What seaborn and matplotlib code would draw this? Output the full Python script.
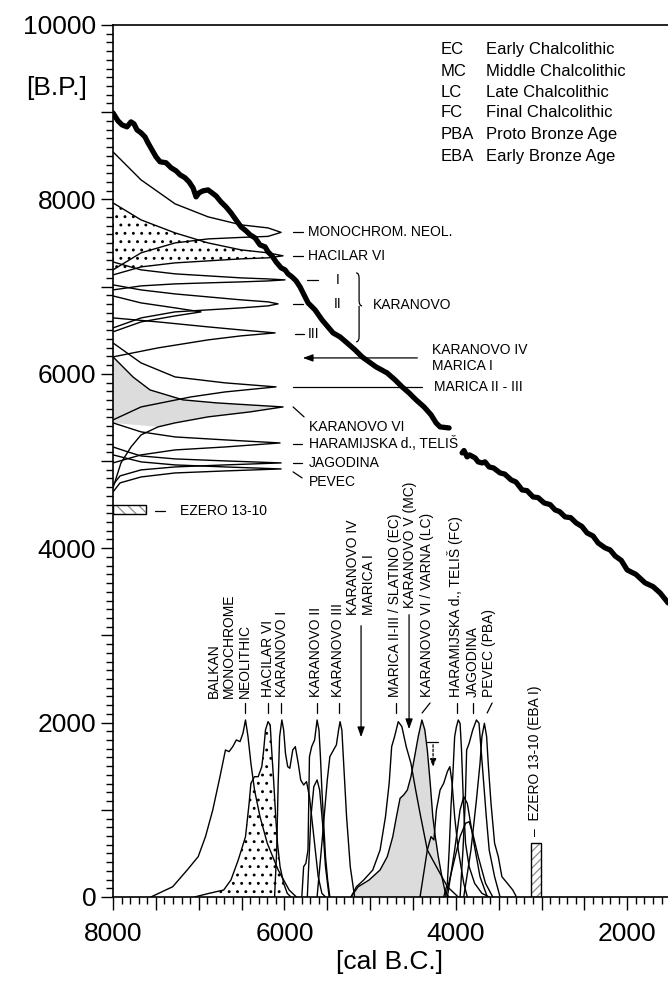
import numpy as np
import pandas as pd
import matplotlib
matplotlib.use("Agg")
import matplotlib.pyplot as plt
import seaborn as sns
from matplotlib.ticker import MultipleLocator, FuncFormatter
from matplotlib.path import Path
from matplotlib.patches import PathPatch

# ---------------- data (cal B.C. / B.P.) ----------------
calib1_bc = [8000,7942,7895,7837,7790,7755,7720,7673,7627,7592,7545,7498,7452,7381,7323,7265,7218,7160,7113,7066,
             7031,6996,6950,6891,6845,6798,6740,6681,6623,6565,6506,6448,6401,6343,6285,6226,6191,6145,6098,6039,
             5993,5958,5911,5864,5818,5771,5724,5643,5561,5433,5351,5269,5176,5094,5012,4931,4802,4709,4627,4546,
             4464,4371,4289,4231,4184,4079]
calib1_bp = [8992,8901,8855,8832,8889,8866,8797,8763,8717,8649,8568,8488,8432,8420,8363,8328,8282,8248,8201,8132,
             8029,8075,8098,8109,8075,8040,7971,7914,7845,7765,7685,7639,7594,7559,7478,7456,7398,7353,7284,7215,
             7192,7146,7111,7066,6997,6905,6813,6733,6618,6469,6423,6354,6274,6194,6136,6079,6010,5930,5850,5781,
             5701,5620,5529,5437,5391,5379]
calib2_bc = [3927,3905,3869,3840,3775,3740,3694,3660,3612,3560,3484,3430,3355,3300,3227,3170,3099,3040,2970,2900,
             2842,2790,2725,2660,2597,2530,2469,2400,2340,2258,2200,2142,2070,2002,1900,1792,1700,1617,1523]
calib2_bp = [5093,5120,5047,5070,5035,4990,4978,4990,4932,4920,4863,4850,4783,4760,4668,4660,4588,4580,4519,4500,
             4439,4420,4359,4350,4290,4250,4175,4140,4060,4003,3980,3911,3860,3751,3700,3602,3560,3487,3372]

# uncalibrated date distributions on the B.P. axis
mono_bc = [8000,7673,7276,6891,6506,6191,6039,6191,6506,6891,7276,7673,8000]
mono_bp = [8545,8224,7949,7800,7708,7673,7622,7576,7564,7547,7501,7387,7192]
hac_bc = [8000,7673,7276,6891,6506,6191,6016,6191,6506,6891,7276,7673,8000]
hac_bp = [7960,7765,7616,7501,7421,7387,7353,7330,7318,7295,7272,7226,7134]
k1_bc = [8000,7673,7276,6891,6506,6191,5993,6191,6506,6891,7276,7673,8000]
k1_bp = [7283,7192,7146,7123,7100,7088,7077,7065,7054,7043,7031,7008,6962]
k2_bc = [8000,7673,7276,6891,6506,6191,6074,6191,6506,6891,7276,7673,8000]
k2_bp = [7020,6962,6916,6882,6848,6825,6802,6779,6756,6733,6710,6641,6526]
k2b_bc = [8000,7673,7276,6973,7276,7673,8000]
k2b_bp = [6893,6813,6756,6710,6664,6595,6481]
k3_bc = [8000,7475,6891,6506,6109,6506,6891,7475,8000]
k3_bp = [6641,6595,6538,6503,6469,6435,6389,6297,6194]
mar_bc = [8000,7673,7276,6693,6098,6693,7090,7673,8000]
mar_bp = [6354,6125,5964,5896,5850,5792,5735,5620,5471]
k6_bc = [8000,7767,7568,7183,6786,6401,6016,6401,6891,7276,7475,7673,7790,7907,8000]
k6_bp = [6194,5964,5815,5701,5666,5643,5620,5563,5506,5437,5391,5299,5161,4978,4691]
har_bc = [8000,7673,7276,6693,6051,6693,7276,7673,8000]
har_bp = [5437,5334,5276,5242,5207,5161,5127,5070,4978]
jag_bc = [8000,7825,7673,7276,6693,6039,6693,7276,7673,7918,8000]
jag_bp = [5161,5104,5058,5024,5001,4978,4955,4932,4898,4829,4726]
pev_bc = [8000,7673,7276,6693,6039,6693,7276,7673,7918,8000]
pev_bp = [5070,4990,4955,4932,4909,4886,4863,4817,4749,4645]

# calibrated distributions on the cal B.C. axis
balkan_bc = [7558,7303,7134,7006,6921,6836,6752,6688,6646,6603,6561,6518,6484,6454,6425,6391,6349,6285,6200,6073,5945,5860]
balkan_p = [0,118,310,463,692,998,1380,1686,1667,1724,1801,1782,1877,2030,1839,1533,1227,921,616,310,80,0]
hacb_bc = [7049,6879,6709,6624,6539,6454,6412,6391,6349,6306,6264,6242,6221,6191,6166,6149,6124,6102,6081,6051,6009,5967,5924]
hacb_p = [0,42,80,195,424,692,1074,1304,1380,1380,1495,1686,1916,2011,1973,1686,1304,921,616,348,157,42,0]
k1b_bc = [6115,6090,6073,6056,6030,6009,5988,5962,5937,5903,5873,5839,5810,5776,5742,5708,5674,5640,5606,5563,5521]
k1b_p = [0,539,1304,1839,2030,1916,1648,1495,1476,1686,1724,1533,1342,1285,1323,1151,845,539,233,42,0]
k2m_bc = [5797,5776,5750,5725,5708,5682,5648,5619,5597,5580,5563,5542,5521,5496,5470]
k2m_p = [0,348,386,539,1610,1724,1801,2030,1916,1610,1227,845,463,195,0]
k2s_bc = [5733,5691,5657,5619,5589,5555,5521,5478]
k2s_p = [0,921,1266,1342,1227,845,348,0]
k3b_bc = [5619,5563,5500,5470,5427,5394,5368,5351,5330,5309,5275,5232,5181]
k3b_p = [0,616,1342,1610,1686,1744,1916,2011,1916,1533,921,348,0]
marb_bc = [5224,5160,5075,4969,4884,4821,4778,4749,4715,4672,4630,4579,4524,4469,4418,4333,4227,4099,3972]
marb_p = [0,118,195,310,539,921,1304,1724,1839,2011,1954,1724,1533,1227,960,539,348,118,0]
k6b_bc = [5224,5139,5012,4884,4800,4736,4693,4651,4609,4566,4524,4481,4439,4396,4362,4333,4299,4269,4240,4205,4163,4121,4078]
k6b_p = [0,118,195,310,463,692,921,1132,1170,1227,1380,1610,1839,2030,1916,1686,1304,921,692,463,233,42,0]
harb_bc = [4142,4099,4078,4057,4036,4014,3993,3972,3951,3934,3913,3887,3845,3781,3696,3611]
harb_p = [0,157,539,1036,1380,1839,1954,2030,1992,1686,1113,616,348,157,42,0]
jagb_bc = [3951,3917,3891,3874,3845,3803,3760,3730,3705,3675,3645,3611,3548,3484]
jagb_p = [0,539,1074,1686,1763,1916,2030,1992,1686,1304,921,539,233,0]
pevb_bc = [3908,3824,3760,3718,3696,3667,3641,3620,3590,3548,3505,3463,3399,3336,3293]
pevb_p = [0,539,1113,1533,1839,1992,1839,1495,1074,616,463,233,157,80,0]
ex1_bc = [4121,4036,3951,3887,3845,3803,3739,3654,3569]
ex1_p = [0,348,692,845,864,730,463,157,0]
ex2_bc = [4099,4014,3951,3908,3866,3803,3718,3633]
ex2_p = [0,539,998,1151,1074,692,233,0]
ex3_bc = [4418,4333,4290,4256,4227,4184,4142,4099,4070,4044,4014,3972,3908,3866]
ex3_p = [0,539,692,654,998,1227,1304,1438,1495,1304,921,539,157,0]

# Ezero 13-10 ranges
ezero_bp_mid, ezero_bp_h, ezero_bp_from = 4445, 103, 7615
ezero_bc_mid, ezero_bc_w, ezero_bc_h = 3063, 117, 616

legend_abbr = ["EC", "MC", "LC", "FC", "PBA", "EBA"]
legend_desc = ["Early Chalcolithic", "Middle Chalcolithic", "Late Chalcolithic",
               "Final Chalcolithic", "Proto Bronze Age", "Early Bronze Age"]
legend_bp = [9715, 9463, 9222, 8992, 8740, 8488]

# labels for the B.P. distributions: (text, x, y)
left_labels = [("MONOCHROM. NEOL.", 5724, 7628), ("HACILAR VI", 5724, 7352),
               ("I", 5398, 7077), ("II", 5420, 6802), ("III", 5724, 6458),
               ("KARANOVO", 4966, 6790), ("KARANOVO IV", 4277, 6274), ("MARICA I", 4277, 6091),
               ("MARICA II - III", 4254, 5850), ("KARANOVO VI", 5713, 5391),
               ("HARAMIJSKA d., TELIŠ", 5713, 5196), ("JAGODINA", 5713, 4978),
               ("PEVEC", 5713, 4760), ("EZERO 13-10", 7218, 4427)]
left_leaders = [((5899, 5783), (7628, 7628)), ((5899, 5783), (7352, 7352)),
                ((5736, 5608), (7077, 7077)), ((5899, 5783), (6802, 6802)),
                ((5876, 5771), (6458, 6458)), ((5899, 5771), (5620, 5506)),
                ((5899, 5794), (5196, 5196)), ((5899, 5794), (4978, 4978)),
                ((5899, 5794), (4875, 4806)), ((7510, 7393), (4427, 4427)),
                ((5899, 4394), (5850, 5850))]

# labels for the cal B.C. distributions: (text, x, y-start)
bottom_labels = [("BALKAN\nMONOCHROME\nNEOLITHIC", 6646, 2283), ("HACILAR VI", 6191, 2294),
                 ("KARANOVO I", 6028, 2294), ("KARANOVO II", 5631, 2294),
                 ("KARANOVO III", 5374, 2294), ("KARANOVO IV\nMARICA I", 5106, 3235),
                 ("MARICA II-III / SLATINO (EC)", 4709, 2294), ("KARANOVO V (MC)", 4534, 3315),
                 ("KARANOVO VI / VARNA (LC)", 4336, 2294), ("HARAMIJSKA d., TELIŠ (FC)", 4009, 2294),
                 ("JAGODINA", 3799, 2294), ("PEVEC (PBA)", 3612, 2294),
                 ("–  EZERO 13-10 (EBA I)", 3075, 700)]
bottom_leaders = [((6460, 6460), (2225, 2110)), ((6191, 6191), (2225, 2110)),
                  ((6039, 6039), (2225, 2110)), ((5619, 5619), (2225, 2110)),
                  ((5363, 5363), (2225, 2110)), ((4697, 4697), (2225, 2110)),
                  ((4301, 4394), (2225, 2110)), ((3985, 3985), (2225, 2110)),
                  ((3799, 3799), (2225, 2110)), ((3577, 3635), (2225, 2110))]

# ---------------- figure ----------------
sns.set_theme(style="ticks")
plt.rcParams["font.family"] = ["Liberation Sans", "DejaVu Sans"]
plt.rcParams["hatch.linewidth"] = 0.9
for k in ["text.color", "axes.labelcolor", "xtick.color", "ytick.color", "axes.edgecolor"]:
    plt.rcParams[k] = "black"

fig = plt.figure(figsize=(6.68, 9.94), dpi=100)
ax = fig.add_axes([113/668, 97/994, 600/668, 872/994])
ax.set_xlim(8000, 1000)
ax.set_ylim(0, 10000)

thin = dict(color="black", lw=1.0, sort=False, estimator=None, legend=False, ax=ax)

# fills (gray area of Karanovo VI on the B.P. axis closes on the Haramijska tail)
ax.fill(hac_bc, hac_bp, facecolor="none", edgecolor="black", hatch="..", lw=0, zorder=1)
ax.fill(k6_bc[:11] + [har_bc[0]], k6_bp[:11] + [har_bp[0]], facecolor="#dcdcdc", lw=0, zorder=1)
ax.fill(hacb_bc, hacb_p, facecolor="none", edgecolor="black", hatch="..", lw=0, zorder=1)
ax.fill(k6b_bc, k6b_p, facecolor="#dcdcdc", lw=0, zorder=1)

for xs, ys in [(mono_bc, mono_bp), (hac_bc, hac_bp), (k1_bc, k1_bp), (k2_bc, k2_bp), (k2b_bc, k2b_bp),
               (k3_bc, k3_bp), (mar_bc, mar_bp), (k6_bc, k6_bp), (har_bc, har_bp), (jag_bc, jag_bp),
               (pev_bc, pev_bp),
               (balkan_bc, balkan_p), (hacb_bc, hacb_p), (k1b_bc, k1b_p), (k2m_bc, k2m_p), (k2s_bc, k2s_p),
               (k3b_bc, k3b_p), (marb_bc, marb_p), (k6b_bc, k6b_p), (harb_bc, harb_p), (jagb_bc, jagb_p),
               (pevb_bc, pevb_p), (ex1_bc, ex1_p), (ex2_bc, ex2_p), (ex3_bc, ex3_p)]:
    sns.lineplot(x=xs, y=ys, **thin)

# calibration curve
for xs, ys in [(calib1_bc, calib1_bp), (calib2_bc, calib2_bp)]:
    sns.lineplot(x=xs, y=ys, color="black", lw=3.8, sort=False, estimator=None, legend=False, ax=ax, zorder=5)

# Ezero 13-10 boxes
ax.barh(ezero_bp_mid, 8000 - ezero_bp_from, left=ezero_bp_from, height=ezero_bp_h,
        color="none", edgecolor="0.55", hatch="\\\\\\", lw=0, zorder=2)
ax.barh(ezero_bp_mid, 8000 - ezero_bp_from, left=ezero_bp_from, height=ezero_bp_h,
        color="none", edgecolor="black", lw=1.0, zorder=3)
ax.bar(ezero_bc_mid, ezero_bc_h, width=ezero_bc_w, color="none", edgecolor="0.55",
       hatch="////", lw=0, zorder=2)
ax.bar(ezero_bc_mid, ezero_bc_h, width=ezero_bc_w, color="none", edgecolor="black", lw=1.0, zorder=3)

# labels
fs = 10
for t, x, y in left_labels:
    ax.text(x, y, t, fontsize=fs, ha="left", va="center", zorder=6)
for (x0, x1), (y0, y1) in left_leaders + bottom_leaders:
    ax.plot([x0, x1], [y0, y1], color="black", lw=0.9)
for t, x, y in bottom_labels:
    ax.text(x, y, t, fontsize=fs, rotation=90, ha="center", va="bottom",
            multialignment="left", linespacing=1.15, zorder=6)

# arrows
arr = dict(arrowstyle="-|>,head_length=0.5,head_width=0.18", color="black", lw=0.9)
ax.annotate("", xy=(5818, 6182), xytext=(4417, 6182), arrowprops=arr)
ax.annotate("", xy=(5106, 1801), xytext=(5106, 3143), arrowprops=arr)
ax.annotate("", xy=(4546, 1893), xytext=(4546, 3269), arrowprops=arr)
ax.annotate("", xy=(4266, 1457), xytext=(4266, 1778),
            arrowprops=dict(arrowstyle="-|>,head_length=0.4,head_width=0.15", color="black",
                            lw=0.9, linestyle=(0, (2, 1.5))))
ax.plot([4336, 4207], [1778, 1778], color="black", lw=0.9)

# brace for KARANOVO I-III
bx, btop, bbot, bmid, bw, bh = 5164, 7157, 6366, 6779, 35, 60
verts = [(bx, btop), (bx - bw, btop), (bx - bw, btop - bh),
         (bx - bw, bmid + bh),
         (bx - bw, bmid), (bx - 2 * bw, bmid),
         (bx - bw, bmid), (bx - bw, bmid - bh),
         (bx - bw, bbot + bh),
         (bx - bw, bbot), (bx, bbot)]
codes = [Path.MOVETO, Path.CURVE3, Path.CURVE3, Path.LINETO, Path.CURVE3, Path.CURVE3,
         Path.MOVETO, Path.CURVE3, Path.LINETO, Path.CURVE3, Path.CURVE3]
ax.add_patch(PathPatch(Path(verts, codes), facecolor="none", edgecolor="black", lw=0.9))

# abbreviation legend
for a, d, y in zip(legend_abbr, legend_desc, legend_bp):
    ax.text(4172, y, a, fontsize=12, ha="left", va="center")
    ax.text(3647, y, d, fontsize=12, ha="left", va="center")

# axes styling
ax.xaxis.set_major_locator(MultipleLocator(500))
ax.xaxis.set_minor_locator(MultipleLocator(100))
ax.yaxis.set_major_locator(MultipleLocator(1000))
ax.yaxis.set_minor_locator(MultipleLocator(100))
fmt = FuncFormatter(lambda v, p: f"{int(round(v))}" if int(round(v)) % 2000 == 0 else "")
ax.xaxis.set_major_formatter(fmt)
ax.yaxis.set_major_formatter(fmt)
ax.tick_params(which="both", direction="out", color="black", width=1.0,
               bottom=True, left=True, top=False, right=False)
ax.tick_params(which="major", length=9, labelsize=19, labelcolor="black")
ax.tick_params(which="minor", length=5)
ax.tick_params(axis="x", pad=9)
ax.tick_params(axis="y", pad=3)
for s in ["top", "left", "bottom", "right"]:
    ax.spines[s].set_visible(True)
    ax.spines[s].set_color("black")
    ax.spines[s].set_linewidth(1.2)
ax.set_xlabel("")
ax.set_ylabel("")

fig.text(390/668, 1 - 962/994, "[cal B.C.]", fontsize=19, ha="center", va="center")
fig.text(57/668, 1 - 88/994, "[B.P.]", fontsize=19, ha="center", va="center")

fig.savefig("out.png", dpi=100)
